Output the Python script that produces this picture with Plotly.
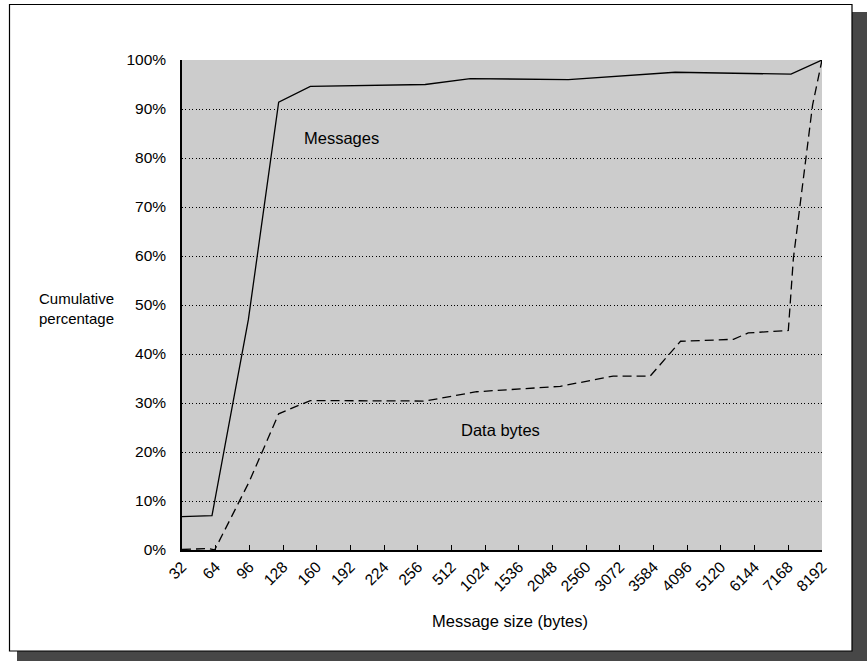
import plotly.graph_objects as go

# Category tick labels (message size in bytes)
size_labels = ["32", "64", "96", "128", "160", "192", "224", "256", "512", "1024",
               "1536", "2048", "2560", "3072", "3584", "4096", "5120", "6144", "7168", "8192"]

# Messages series: x given as position along the category axis (0 = "32")
msg_x = [0, 0.89, 1.97, 2.87, 3.81, 7.22, 8.56, 11.47, 14.64, 18.08, 19]
msg_y = [6.8, 7.0, 47, 91.4, 94.6, 95.0, 96.2, 96.0, 97.5, 97.1, 100]

# Data bytes series
bytes_x = [0, 0.8, 0.97, 2.0, 2.87, 3.81, 7.22, 8.75, 11.23, 12.8, 13.9, 14.8,
           16.37, 16.81, 18.0, 18.15, 18.72, 19]
bytes_y = [0.1, 0.3, 0.0, 14, 27.8, 30.5, 30.4, 32.3, 33.4, 35.5, 35.5, 42.6,
           43.0, 44.3, 44.8, 59.5, 90.8, 100]

y_ticks = list(range(0, 101, 10))
y_tick_labels = [f"{v}%" for v in y_ticks]

FONT = "Liberation Sans, Arial, Helvetica, sans-serif"

fig = go.Figure()
fig.add_trace(go.Scatter(x=msg_x, y=msg_y, mode="lines",
                         line=dict(color="black", width=1.3), showlegend=False))
fig.add_trace(go.Scatter(x=bytes_x, y=bytes_y, mode="lines",
                         line=dict(color="black", width=1.3, dash="9px,5px"), showlegend=False))

L, R, T, B = 182, 45, 60, 111
W, H = 867, 661
pw, ph = W - L - R, H - T - B

def px_x(p):
    return (p - L) / pw

def px_y(p):
    return (H - B - p) / ph

# shadow + frame + grey plotting area
fig.add_shape(type="rect", xref="paper", yref="paper", layer="below",
              x0=px_x(17), x1=px_x(880), y0=px_y(680), y1=px_y(12),
              fillcolor="#474747", line=dict(width=0))
fig.add_shape(type="rect", xref="paper", yref="paper", layer="below",
              x0=px_x(9.5), x1=px_x(852), y0=px_y(651), y1=px_y(4.5),
              fillcolor="white", line=dict(color="black", width=1.2))
fig.add_shape(type="rect", xref="paper", yref="paper", layer="below",
              x0=0, x1=1, y0=0, y1=1, fillcolor="#cccccc", line=dict(width=0))

fig.add_annotation(x=4.73, y=84, xref="x", yref="y", text="Messages", showarrow=False,
                   font=dict(family=FONT, size=16.5, color="black"))
fig.add_annotation(x=9.47, y=24.5, xref="x", yref="y", text="Data bytes", showarrow=False,
                   font=dict(family=FONT, size=16.5, color="black"))
fig.add_annotation(x=px_x(76), y=px_y(308), xref="paper", yref="paper",
                   xanchor="center", yanchor="middle",
                   text="Cumulative<br>percentage", showarrow=False, align="center",
                   font=dict(family=FONT, size=15, color="black"))
fig.add_annotation(x=px_x(510), y=px_y(621), xref="paper", yref="paper",
                   xanchor="center", yanchor="middle",
                   text="Message size (bytes)", showarrow=False,
                   font=dict(family=FONT, size=16.5, color="black"))

fig.update_layout(
    width=W, height=H,
    margin=dict(l=L, r=R, t=T, b=B, pad=0),
    paper_bgcolor="white",
    plot_bgcolor="#cccccc",
    font=dict(family=FONT, size=15, color="black"),
    xaxis=dict(range=[0, 19], tickmode="array", tickvals=list(range(len(size_labels))),
               ticktext=size_labels, tickangle=-45, ticks="inside", ticklen=5,
               tickcolor="black", tickwidth=1, showgrid=False, zeroline=False,
               showline=True, linecolor="black", linewidth=1.5,
               tickfont=dict(family=FONT, size=15.5)),
    yaxis=dict(range=[0, 100], tickmode="array", tickvals=y_ticks, ticktext=y_tick_labels,
               ticks="", showgrid=True, gridcolor="black", gridwidth=1, griddash="1px,2.4px",
               zeroline=False, showline=True, linecolor="black", linewidth=1.5,
               ticklabelstandoff=11, tickfont=dict(family=FONT, size=15.5)),
)

fig.write_html("out.html", config={"displayModeBar": False},
               post_script=("document.documentElement.style.margin='0';"
                            "document.body.style.margin='0';"
                            "document.body.style.overflow='hidden';"
                            "document.documentElement.style.overflow='hidden';"))
